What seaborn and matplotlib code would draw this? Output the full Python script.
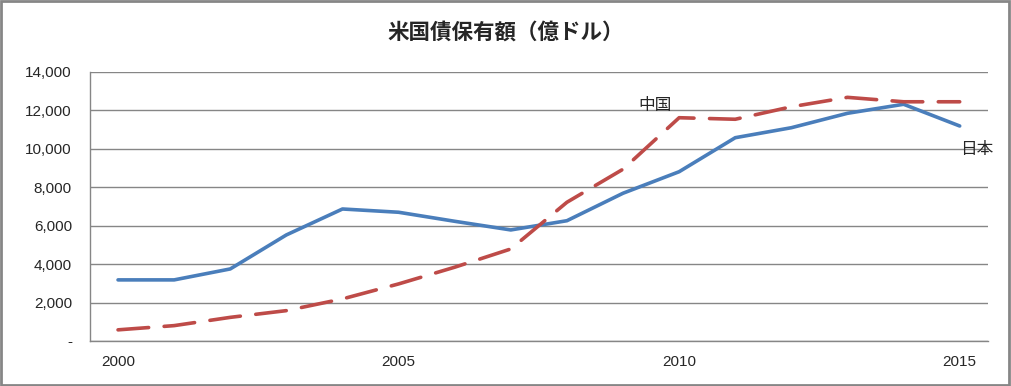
import matplotlib
matplotlib.use("Agg")
import matplotlib.pyplot as plt
import seaborn as sns
import pandas as pd
from matplotlib.patches import Rectangle
from matplotlib.ticker import FuncFormatter

years = list(range(2000, 2016))
japan = [3180, 3180, 3750, 5520, 6870, 6700, 6230, 5780, 6260, 7690,
         8810, 10580, 11100, 11850, 12320, 11190]
china = [580, 800, 1230, 1580, 2190, 2970, 3840, 4790, 7220, 8940,
         11620, 11540, 12190, 12680, 12450, 12450]
xtick_years = [2000, 2005, 2010, 2015]
title = "米国債保有額（億ドル）"

df = pd.DataFrame({"year": years, "日本": japan, "中国": china})

sns.set_style("white")
plt.rcParams["font.family"] = ["Liberation Sans", "Noto Sans CJK JP", "DejaVu Sans"]

fig = plt.figure(figsize=(10.11, 3.86), dpi=100)
ax = fig.add_axes([0.089, 0.1166, 0.888, 0.6969])

blue = "#4A7EBB"
red = "#BE4B48"
sns.lineplot(data=df, x="year", y="日本", ax=ax, color=blue, lw=2.6,
             solid_capstyle="round")
sns.lineplot(data=df, x="year", y="中国", ax=ax, color=red, lw=2.6,
             dashes=False, solid_capstyle="round")
ax.lines[-1].set_dashes((8.5, 4.3))
ax.lines[-1].set_dash_capstyle("round")

ax.set_xlim(1999.5, 2015.5)
ax.set_ylim(0, 14000)
ax.set_yticks(range(0, 14001, 2000))
ax.yaxis.set_major_formatter(FuncFormatter(lambda v, p: "-" if v == 0 else f"{int(v):,}"))
ax.set_xticks(xtick_years)
ax.set_xlabel("")
ax.set_ylabel("")
ax.grid(axis="y", color="#868686", lw=1)
ax.tick_params(axis="y", length=0, pad=13, labelsize=11)
ax.tick_params(axis="x", length=0, pad=10, labelsize=11)
for side in ["top", "right"]:
    ax.spines[side].set_visible(False)
for side in ["left", "bottom"]:
    ax.spines[side].set_color("#868686")
    ax.spines[side].set_linewidth(1)

ax.text(2009.57, 12230, "中国", fontsize=12, ha="center", va="center",
        family=["Noto Sans CJK JP"])
ax.text(2015.3, 9940, "日本", fontsize=12, ha="center", va="center",
        family=["Noto Sans CJK JP"])

fig.text(0.5, 0.918, title, ha="center", va="center", fontsize=15.5,
         fontweight="bold", family=["Noto Sans CJK JP"])

fig.patches.append(Rectangle((0.001, 0.002), 0.997, 0.995, transform=fig.transFigure,
                             fill=False, edgecolor="#868686", lw=2))

fig.savefig("out.png", dpi=100)
